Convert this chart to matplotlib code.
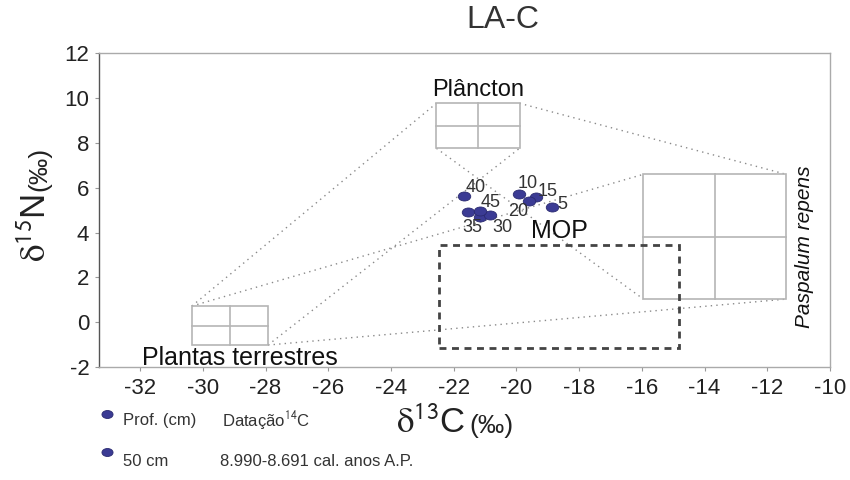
import matplotlib
matplotlib.use('Agg')
import matplotlib.pyplot as plt
from matplotlib.patches import Rectangle
from matplotlib.path import Path
from matplotlib.markers import MarkerStyle
from matplotlib.transforms import Affine2D

plt.rcParams['font.family'] = ['Liberation Sans', 'DejaVu Sans']
plt.rcParams['mathtext.fontset'] = 'stix'
plt.rcParams['axes.unicode_minus'] = False

# Amostras do testemunho LA-C (profundidade em cm)
profundidade = [5, 10, 15, 20, 25, 30, 35, 40, 45]
rotulos = ['5', '10', '15', '20', '', '30', '35', '40', '45']
d13c = [-18.88, -19.92, -19.39, -19.60, -21.17, -20.83, -21.55, -21.68, -21.17]
d15n = [5.15, 5.72, 5.60, 5.41, 4.71, 4.77, 4.92, 5.63, 4.97]
# deslocamento dos rótulos (pontos)
desloc = [(8.0, 2.0), (6.6, 7.9), (8.6, 3.6), (-7.9, -7.9), (0, 0),
          (8.6, -9.1), (3.4, -11.5), (8.4, 5.8), (7.7, 6.3)]

# Fontes de matéria orgânica (faixas de d13C e d15N)
fontes = ['Plantas terrestres', 'Plâncton', 'Paspalum repens']
fonte_c13_min = [-30.35, -22.55, -15.95]
fonte_c13_max = [-27.92, -19.90, -11.40]
fonte_n15_min = [-1.02, 7.76, 1.03]
fonte_n15_max = [0.72, 9.77, 6.60]

# Faixa da matéria orgânica particulada (MOP)
mop_c13 = [-22.47, -14.80]
mop_n15 = [-1.13, 3.44]

# linhas pontilhadas entre os cantos das caixas das fontes
ligacoes = [(0, 'tl', 1, 'tl'), (1, 'tr', 2, 'tr'), (0, 'br', 2, 'br'),
            (0, 'tl', 2, 'tl'), (0, 'br', 1, 'br'), (1, 'bl', 2, 'bl')]


def canto(i, c):
    x = fonte_c13_min[i] if c[1] == 'l' else fonte_c13_max[i]
    y = fonte_n15_max[i] if c[0] == 't' else fonte_n15_min[i]
    return x, y


fig = plt.figure(figsize=(8.5, 4.8), dpi=100)
ax = fig.add_axes([99 / 850, 1 - 367 / 480, 731 / 850, 313.7 / 480])

for i1, c1, i2, c2 in ligacoes:
    x1, y1 = canto(i1, c1)
    x2, y2 = canto(i2, c2)
    ax.plot([x1, x2], [y1, y2], color='#8a8a8a', lw=1, ls=(0, (1, 3)), zorder=1)

cinza_caixa = '#b5b5b5'
for i in range(len(fontes)):
    x0, x1 = fonte_c13_min[i], fonte_c13_max[i]
    y0, y1 = fonte_n15_min[i], fonte_n15_max[i]
    ax.add_patch(Rectangle((x0, y0), x1 - x0, y1 - y0, fill=False,
                           ec=cinza_caixa, lw=1.2, zorder=2))
    xm, ym = (x0 + x1) / 2, (y0 + y1) / 2
    ax.plot([xm, xm], [y0, y1], color=cinza_caixa, lw=1.2, zorder=2)
    ax.plot([x0, x1], [ym, ym], color=cinza_caixa, lw=1.2, zorder=2)

ax.add_patch(Rectangle((mop_c13[0], mop_n15[0]), mop_c13[1] - mop_c13[0],
                       mop_n15[1] - mop_n15[0], fill=False, ec='#444444',
                       lw=2, ls=(0, (2.5, 2)), zorder=2))

# nomes das fontes
ax.text((fonte_c13_min[1] + fonte_c13_max[1]) / 2, fonte_n15_max[1] + 0.1,
        fontes[1], ha='center', va='bottom', fontsize=17, color='#111111')
ax.text(-31.95, fonte_n15_min[0] - 0.05, fontes[0], ha='left', va='top',
        fontsize=18, color='#111111')
ax.text(-10.82, 3.35, fontes[2], rotation=90, ha='center', va='center',
        style='italic', fontsize=15, color='#111111')
ax.text((mop_c13[0] + mop_c13[1]) / 2, mop_n15[1] + 0.08, 'MOP', ha='center',
        va='bottom', fontsize=18, color='#111111')

# pontos em forma de elipse
elipse = Path.unit_circle().transformed(Affine2D().scale(1.0, 0.72))
marcador = MarkerStyle(elipse)
ax.plot(d13c, d15n, ls='none', marker=marcador, ms=9, mfc='#3b3b94',
        mec='#2a2a70', mew=0.6, zorder=4)
for x, y, r, d in zip(d13c, d15n, rotulos, desloc):
    if r:
        ax.annotate(r, (x, y), xytext=d, textcoords='offset points',
                    ha='center', va='center', fontsize=13, color='#333333',
                    zorder=5)

ax.set_xlim(-33.31, -10)
ax.set_ylim(-2, 12)
ax.set_xticks(range(-32, -9, 2))
ax.set_yticks(range(-2, 13, 2))
ax.tick_params(axis='both', direction='out', length=3, color='#999999',
               labelsize=16, labelcolor='#222222')
ax.tick_params(axis='x', pad=5)
ax.tick_params(axis='y', pad=4)
for lado in ['top', 'right', 'bottom']:
    ax.spines[lado].set_color('#aaaaaa')
ax.spines['left'].set_color('#555555')
for s in ax.spines.values():
    s.set_linewidth(1)

# título
fig.text(503 / 850, 1 - 20 / 480, 'LA-C', ha='center', va='center',
         fontsize=23, color='#333333')

# rótulos dos eixos: a unidade vem logo depois do símbolo
renderer = fig.canvas.get_renderer()
rot_x = fig.text(396 / 850, 1 - 433 / 480, r'$\mathrm{\delta}^{\mathsf{13}}$C',
                 ha='left', va='baseline', fontsize=25, color='#222222')
fim_x = rot_x.get_window_extent(renderer).x1
fig.text((fim_x + 4) / 850, 1 - 433 / 480, '(‰)', ha='left', va='baseline',
         fontsize=19, color='#222222')

rot_y = fig.text(46 / 850, 1 - 262 / 480, r'$\mathrm{\delta}^{\mathsf{15}}$N',
                 rotation=90, rotation_mode='anchor', ha='left',
                 va='baseline', fontsize=25, color='#222222')
fim_y = rot_y.get_window_extent(renderer).y1
fig.text(46 / 850, (fim_y + 3) / 480, '(‰)', rotation=90,
         rotation_mode='anchor', ha='left', va='baseline', fontsize=19,
         color='#222222')

# legenda inferior
legenda_y = [414, 452]
for yy in legenda_y:
    ax.plot([107 / 850], [1 - yy / 480], ls='none', marker=marcador, ms=8,
            mfc='#3b3b94', mec='#2a2a70', mew=0.6, transform=fig.transFigure,
            clip_on=False)
fig.text(123 / 850, 1 - 421 / 480, 'Prof. (cm)', va='center', fontsize=12,
         color='#333333')
fig.text(222 / 850, 1 - 421 / 480, r'Datação$^{\mathsf{14}}$C', va='center',
         fontsize=12, color='#333333')
fig.text(123 / 850, 1 - 462 / 480, '50 cm', va='center', fontsize=12,
         color='#333333')
fig.text(220 / 850, 1 - 462 / 480, '8.990-8.691 cal. anos A.P.', va='center',
         fontsize=12, color='#333333')

fig.savefig('out.png', dpi=100)
